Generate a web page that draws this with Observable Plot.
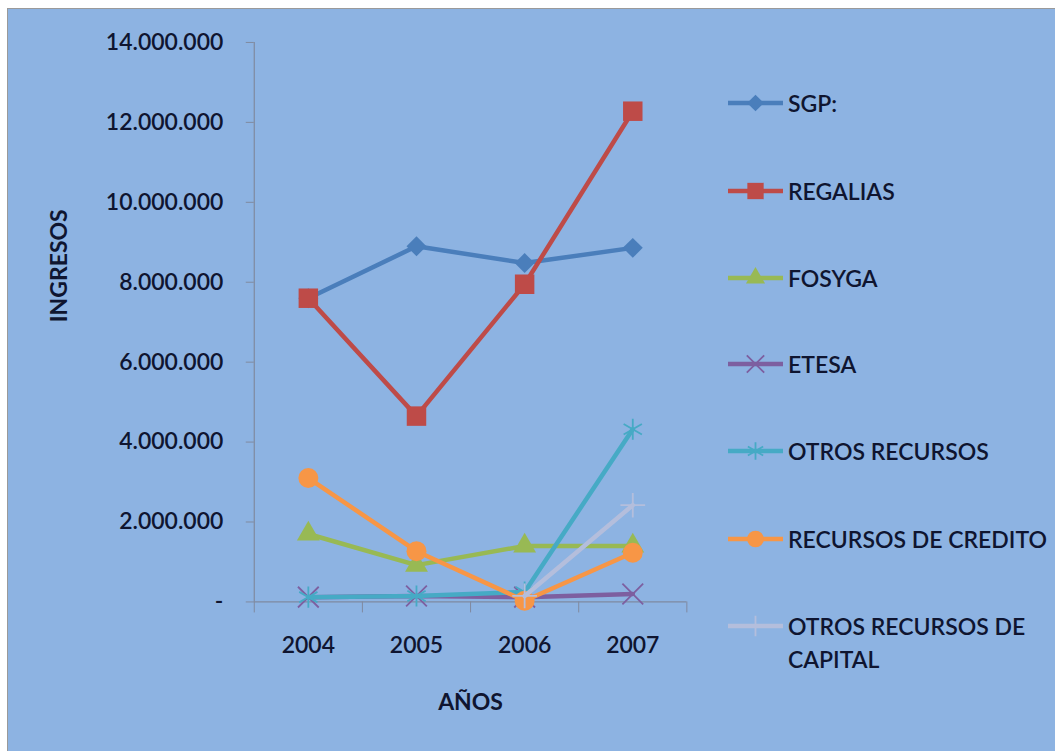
<!DOCTYPE html>
<html>
<head>
<meta charset="utf-8">
<script src="https://cdn.jsdelivr.net/npm/d3@7"></script>
<script src="https://cdn.jsdelivr.net/npm/@observablehq/plot@0.6"></script>
<style>
  html, body { margin: 0; padding: 0; background: #ffffff; }
  #chart {
    position: absolute; left: 7px; top: 8px; width: 1048px; height: 743px;
    background: #8DB3E2; border-left: 1px solid #9a9a9a; border-top: 1px solid #9a9a9a;
    box-sizing: border-box; overflow: hidden;
    font-family: Lato, "Open Sans", sans-serif;
  }
  #plot { position: absolute; left: 0; top: 0; }
  #legend { position: absolute; left: 719px; top: 0; }
  .row { position: absolute; left: 0; display: flex; align-items: flex-start; }
  .row svg { flex: none; }
  .row span { font-size: 23px; font-weight: 600; line-height: 33px; color: #0f1530; width: 262px; margin-left: 4px; margin-top: -2.5px; }
</style>
</head>
<body>
<div id="chart"><div id="plot"></div><div id="legend"></div></div>
<script>
// ---- data ----
const years = [2004, 2005, 2006, 2007];
const seriesNames = ["SGP:", "REGALIAS", "FOSYGA", "ETESA", "OTROS RECURSOS", "RECURSOS DE CREDITO", "OTROS RECURSOS DE CAPITAL"];
const sgp = [7600000, 8900000, 8480000, 8860000];
const regalias = [7600000, 4650000, 7950000, 12280000];
const fosyga = [1700000, 920000, 1400000, 1400000];
const etesa = [120000, 150000, 120000, 200000];
const otrosRecursos = [120000, 150000, 250000, 4320000];
const recursosCredito = [3100000, 1270000, 30000, 1230000];
const otrosCapital = [null, null, 150000, 2420000];
const yTicks = [0, 2000000, 4000000, 6000000, 8000000, 10000000, 12000000, 14000000];
const xBoundaries = [2003.5, 2004.5, 2005.5, 2006.5, 2007.5];
const colors = ["#4A7EBB", "#BE4B48", "#98B954", "#7D5FA0", "#46AAC5", "#F79646", "#B4BEDC"];
const symbols = ["diamond2", "square", "triangle", "times", "asterisk", "circle", "plus"];
const filled = [true, true, true, false, false, true, false];
const dotR = [9, 11, 8.5, 9.5, 10, 10, 8];

const seriesValues = [sgp, regalias, fosyga, etesa, otrosRecursos, recursosCredito, otrosCapital];
const rows = seriesNames.map((name, i) => years.map((year, j) => ({series: name, idx: i, year, value: seriesValues[i][j]})));

const fmt = d => d === 0 ? "-" : d3.format(",")(d).replace(/,/g, ".");

const marks = [
  Plot.ruleX([2003.5], {stroke: "#7f8aa0", strokeWidth: 1.2}),
  Plot.ruleY([0], {stroke: "#7f8aa0", strokeWidth: 1.2}),
  Plot.axisY({ticks: yTicks, tickFormat: fmt, tickSize: 8, tickPadding: 23, fontSize: 23, fontWeight: 600, stroke: "#7f8aa0", fill: "#0f1530", label: null}),
  Plot.axisX({ticks: xBoundaries, tickFormat: () => "", tickSize: 11, stroke: "#7f8aa0", label: null}),
  Plot.axisX({ticks: years, tickFormat: d => String(d), tickSize: 0, tickPadding: 35, fontSize: 23, fontWeight: 600, fill: "#0f1530", label: null}),
  Plot.text(["INGRESOS"], {text: d => d, frameAnchor: "left", rotate: -90, dx: -195, fontSize: 23, fontWeight: "bold", fill: "#0f1530"}),
  Plot.text(["AÑOS"], {text: d => d, frameAnchor: "bottom", dy: 108, fontSize: 23, fontWeight: "bold", fill: "#0f1530"})
];
rows.forEach((data, i) => {
  const pts = data.filter(d => d.value != null);
  marks.push(Plot.line(pts, {x: "year", y: "value", stroke: colors[i], strokeWidth: 4.5}));
  marks.push(Plot.dot(pts, {
    x: "year", y: "value", symbol: () => symbols[i], r: dotR[i],
    fill: filled[i] ? colors[i] : "none", stroke: colors[i], strokeWidth: filled[i] ? 0 : 1.8
  }));
});

const chart = Plot.plot({
  width: 1048, height: 743,
  marginLeft: 246, marginRight: 369, marginTop: 33, marginBottom: 150,
  style: {background: "transparent", fontFamily: "Lato, 'Open Sans', sans-serif", overflow: "visible"},
  x: {type: "linear", domain: [2003.5, 2007.5]},
  y: {domain: [0, 14000000]},
  symbol: {type: "identity"},
  marks
});
document.getElementById("plot").appendChild(chart);

// ---- legend ----
const legend = d3.select("#legend");
const rowCenters = [94, 182, 269, 355, 442, 530, 617];
const symMap = {diamond2: d3.symbolDiamond2, square: d3.symbolSquare, triangle: d3.symbolTriangle,
  times: d3.symbolTimes, asterisk: d3.symbolAsterisk, circle: d3.symbolCircle, plus: d3.symbolPlus};
seriesNames.forEach((name, i) => {
  const row = legend.append("div").attr("class", "row").style("top", (rowCenters[i] - 14) + "px");
  const svg = row.append("svg").attr("width", 57).attr("height", 28);
  svg.append("line").attr("x1", 1).attr("x2", 56).attr("y1", 14).attr("y2", 14)
    .attr("stroke", colors[i]).attr("stroke-width", 4.5);
  svg.append("path").attr("transform", "translate(28.5,14)")
    .attr("d", d3.symbol(symMap[symbols[i]], Math.PI * dotR[i] * dotR[i] * 0.7)())
    .attr("fill", filled[i] ? colors[i] : "none").attr("stroke", colors[i]).attr("stroke-width", filled[i] ? 0 : 1.8);
  row.append("span").text(name);
});
</script>
</body>
</html>
